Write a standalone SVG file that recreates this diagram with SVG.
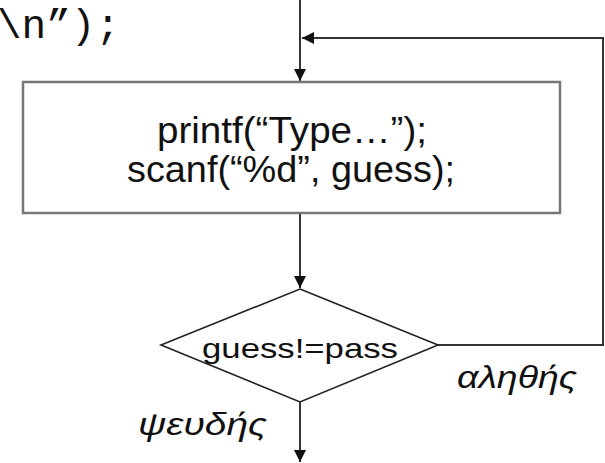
<svg xmlns="http://www.w3.org/2000/svg" width="605" height="463" viewBox="0 0 605 463">
<style>
.ln{fill:none;stroke:#333;stroke-width:2}
.box{fill:#fff;stroke:#777;stroke-width:2.5}
.dia{fill:#fff;stroke:#222;stroke-width:1.6}
.t{font-family:"Liberation Sans",Arial,sans-serif;fill:#111;text-anchor:middle}
.g{font-family:"Liberation Sans","DejaVu Sans",sans-serif;font-style:italic;fill:#111;font-size:32px}
</style>
<defs>
<marker id="ah" markerWidth="12" markerHeight="12" viewBox="0 0 12 12" refX="12" refY="6" orient="auto" markerUnits="userSpaceOnUse">
<path d="M0,0 L12,6 L0,12 Z" fill="#111"/>
</marker>
</defs>
<text x="-3" y="38" style="font-family:'Liberation Mono','Courier New',monospace;font-size:41px;fill:#111">\n”);</text>
<g id="connectors">
<path class="ln" d="M300,0 V81" marker-end="url(#ah)"/>
<path class="ln" d="M300,213 V288" marker-end="url(#ah)"/>
<path class="ln" d="M300,402 V462" marker-end="url(#ah)"/>
<path class="ln" d="M438,345 H603 V38 H302" marker-end="url(#ah)"/>
</g>
<g id="process">
<rect class="box" x="23" y="82" width="537" height="131"/>
<text class="t" x="292" y="143" font-size="36" textLength="270" lengthAdjust="spacingAndGlyphs">printf(“Type…”);</text>
<text class="t" x="291" y="182" font-size="36" textLength="328" lengthAdjust="spacingAndGlyphs">scanf(“%d”, guess);</text>
</g>
<g id="decision">
<polygon class="dia" points="300,289 438,345 300,402 161,345"/>
<text class="t" x="300" y="358" font-size="28" textLength="196" lengthAdjust="spacingAndGlyphs">guess!=pass</text>
</g>
<text class="g" x="457" y="388" textLength="120" lengthAdjust="spacingAndGlyphs">αληθής</text>
<text class="g" x="138" y="435" textLength="129" lengthAdjust="spacingAndGlyphs">ψευδής</text>
</svg>
